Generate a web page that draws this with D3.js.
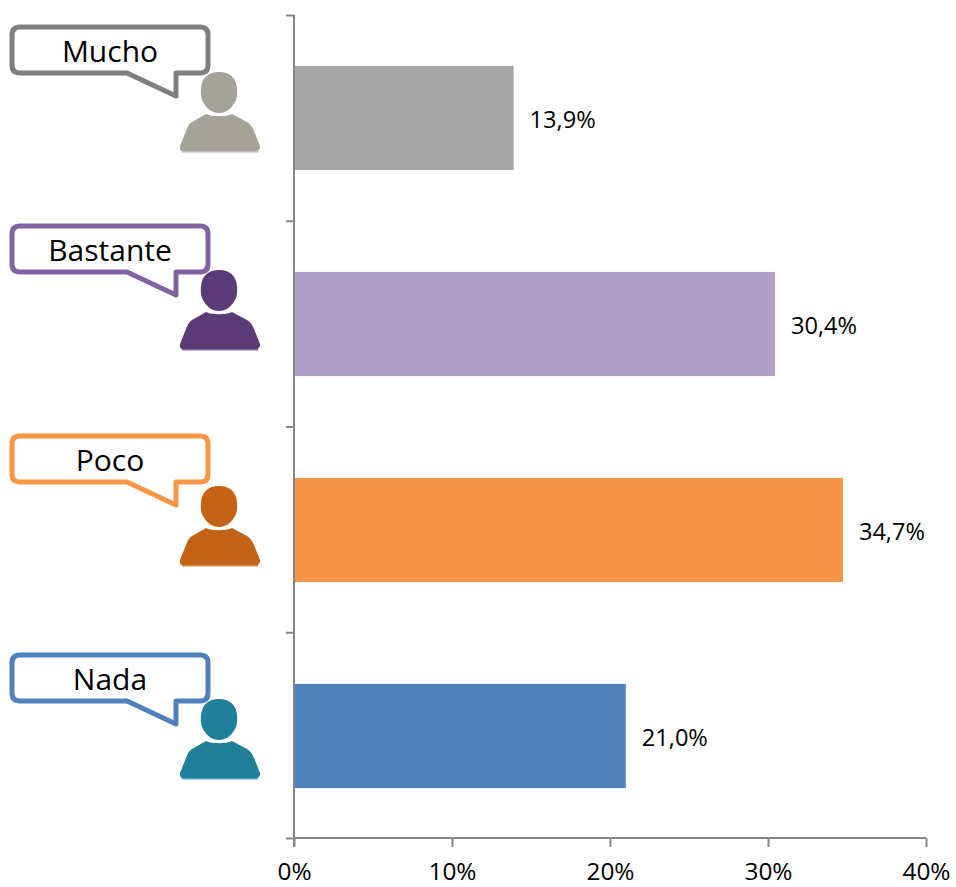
<!DOCTYPE html>
<html><head><meta charset="utf-8">
<script src="https://cdnjs.cloudflare.com/ajax/libs/d3/7.8.5/d3.min.js"></script>
<style>html,body{margin:0;padding:0;background:#fff}svg{display:block}text{font-family:"Open Sans",sans-serif;fill:#000}</style>
</head><body><div id="c"></div>
<script>
const categories = ["Mucho","Bastante","Poco","Nada"];
const values = [13.9,30.44,34.74,21.0];
const valueLabels = ["13,9%","30,4%","34,7%","21,0%"];
const xTicks = [0,10,20,30,40];
const barColors = ["#A6A6A6","#B1A0C7","#F79646","#4F81BD"];
const bubbleColors = ["#7F7F7F","#8064A2","#F79646","#4F81BD"];
const personColors = ["#A5A298","#5A3B78","#C46316","#218099"];
const bubbleTop = [27,226,436,655];
const personTop = [72,270,486,699];

const svg = d3.select("#c").append("svg").attr("width",956).attr("height",887);
const x = d3.scaleLinear().domain([0,40]).range([294,926]);
const y = d3.scaleBand().domain(categories).range([15,839]).paddingInner(0.4945).paddingOuter(0.24725);
const band = d3.scaleBand().domain(categories).range([15,838]);

svg.selectAll("rect.bar").data(categories).join("rect").attr("class","bar")
  .attr("x",x(0)).attr("y",d=>y(d)).attr("width",(d,i)=>x(values[i])-x(0)).attr("height",y.bandwidth())
  .attr("fill",(d,i)=>barColors[i]);

const axisColor="#868686";
const xAxis = svg.append("g").attr("transform","translate(0,838)")
  .call(d3.axisBottom(x).tickValues(xTicks).tickFormat(d=>d+"%").tickSize(9).tickPadding(15.5));
xAxis.select(".domain").attr("stroke",axisColor).attr("stroke-width",2).attr("d","M294,0H926");
xAxis.selectAll("line").attr("stroke",axisColor).attr("stroke-width",2);
xAxis.selectAll("text").attr("font-size",24.4).style("font-family","'Open Sans',sans-serif");

const yTickVals = d3.range(5).map(i=>15+i*band.step());
const yAxis = svg.append("g").attr("transform","translate(294,0)")
  .call(d3.axisLeft(d3.scaleIdentity().domain([15,838])).tickValues(yTickVals).tickFormat("").tickSize(8));
yAxis.select(".domain").attr("stroke",axisColor).attr("stroke-width",2).attr("d","M0,15V847");
yAxis.selectAll("line").attr("stroke",axisColor).attr("stroke-width",2);

svg.selectAll("text.val").data(valueLabels).join("text").attr("class","val")
  .attr("x",(d,i)=>x(values[i])+16).attr("y",(d,i)=>y(categories[i])+y.bandwidth()/2+1.5)
  .attr("dy","0.35em").attr("font-size",23.6).text(d=>d);

const g = svg.selectAll("g.callout").data(categories).join("g").attr("class","callout");
// person icon, drawn in a local 80x80 box
g.append("rect").attr("x",2).attr("y",78).attr("width",76).attr("height",2.5).attr("opacity",0.75)
  .attr("fill",(d,i)=>personColors[i]).attr("transform",(d,i)=>`translate(180,${personTop[i]})`);
g.append("path").attr("transform",(d,i)=>`translate(180,${personTop[i]})`)
  .attr("fill",(d,i)=>personColors[i])
  .attr("d","M39,0C50,0 56,6 57,16C57.5,22 57,27 55,30C51,37 46,41 39,41C32,41 27,37 23,30C21,27 20.5,22 21,16C22,6 28,0 39,0Z"
    +"M26,42C32,45 46,45 52,42L67,50C70,52 72,54 74,59L80,74C80.5,76 79.5,78 77,79L2,79C0,78 -0.5,76 0,74L6,59C8,54 9,52 12,50Z");
// speech bubble
g.append("path").attr("transform",(d,i)=>`translate(12,${bubbleTop[i]})`)
  .attr("fill","#fff").attr("stroke",(d,i)=>bubbleColors[i]).attr("stroke-width",5).attr("stroke-linejoin","round")
  .attr("d","M8,0H188Q196,0 196,8V38Q196,46 188,46H164V69L115,46H8Q0,46 0,38V8Q0,0 8,0Z");
g.append("text").attr("x",110).attr("y",(d,i)=>bubbleTop[i]+24.5).attr("dy","0.35em")
  .attr("text-anchor","middle").attr("font-size",30).text(d=>d);
</script></body></html>
